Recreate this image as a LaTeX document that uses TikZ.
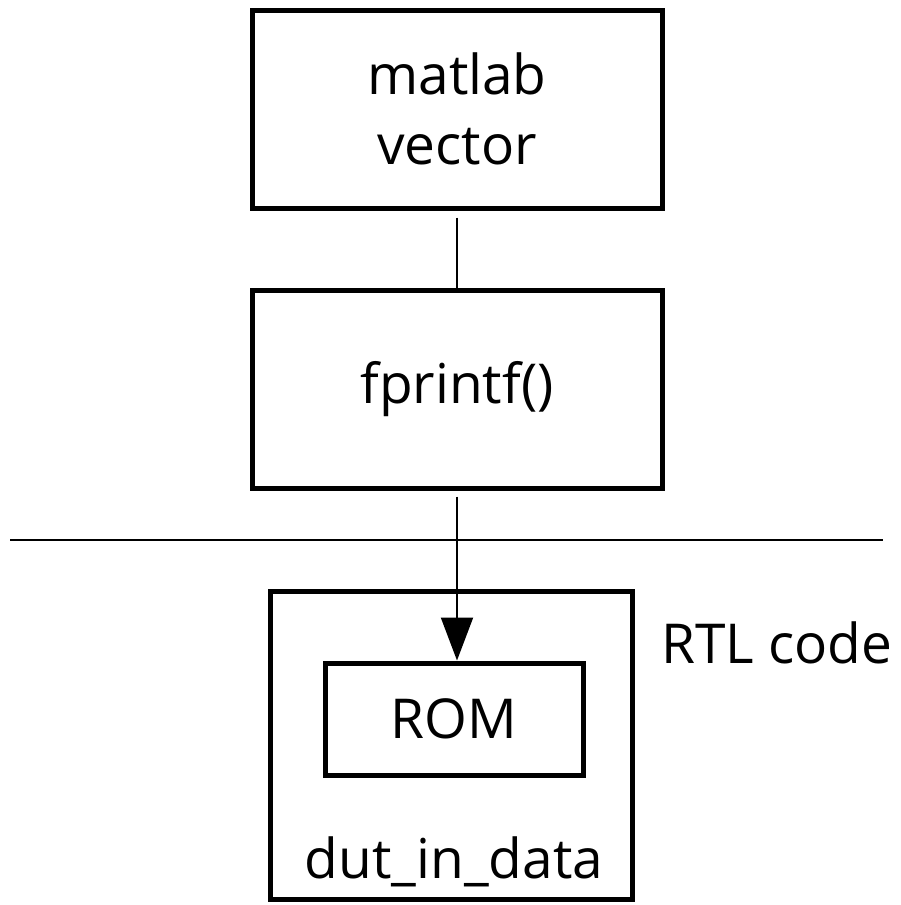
\documentclass[tikz,border=0pt]{standalone}
\usepackage{fontspec}
\setmainfont{Open Sans}
\usetikzlibrary{arrows.meta}
\tikzset{
  bigbox/.style={draw, line width=2.5pt, minimum width=205pt, minimum height=99pt, align=center},
  txt/.style={font=\fontsize{27.5}{35}\selectfont},
}
\begin{document}
\begin{tikzpicture}[x=0.5pt,y=-0.5pt]
\useasboundingbox (0,0) rectangle (900,905);
\node[bigbox,txt] (vec) at (457,109) {matlab\\vector};
\node[bigbox,txt] (fpf) at (457,389) {fprintf()};
\draw[line width=1pt, shorten <=3.5pt] (vec) -- (fpf);
\coordinate (sepL) at (10,540);
\coordinate (sepR) at (883,540);
\draw[line width=1pt] (sepL) -- (sepR);
\node[draw, line width=2.5pt, minimum width=181pt, minimum height=154pt] (rtl) at (451,745) {};
\node[draw, line width=2.5pt, minimum width=129pt, minimum height=56pt, txt] (rom) at (454,719) {ROM};
\node[txt] (dut) at (454,862) {dut\_in\_data};
\node[txt] (lbl) at (777,643) {RTL code};
\draw[line width=1pt, -{Triangle[length=21.5pt,width=16pt]}, shorten <=3pt] (fpf.south) -- (fpf.south |- rom.north);
\end{tikzpicture}
\end{document}
